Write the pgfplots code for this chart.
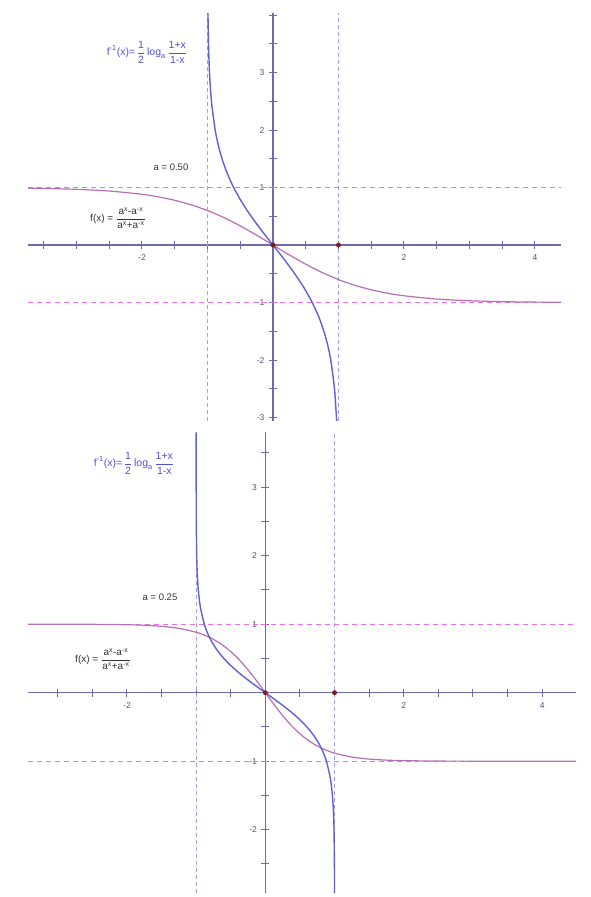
\documentclass[border=0pt]{standalone}
\usepackage{fontspec}
\setmainfont{Liberation Sans}
\usepackage{amsmath}
\usepackage{pgfplots}
\pgfplotsset{compat=1.18}
\definecolor{axiscol}{RGB}{108,108,172}
\definecolor{bluecurve}{RGB}{96,96,215}
\definecolor{purplecurve}{RGB}{180,112,180}
\definecolor{magdash}{RGB}{235,110,235}
\definecolor{bluedash}{RGB}{160,160,228}
\definecolor{dotred}{RGB}{128,30,30}
\definecolor{ticklab}{RGB}{80,80,120}
\definecolor{labblue}{RGB}{80,80,220}
\pgfplotsset{gg/.style={
  axis lines=middle, scale only axis, anchor=south west,
  axis line style={axiscol, line width=1.6pt, -},
  every tick/.style={axiscol, line width=1pt},
  major tick length=8pt, minor tick length=8pt, tick align=center,
  ticklabel style={font=\fontsize{8.5}{9}\selectfont, text=ticklab},
  xticklabel style={yshift=-2pt},
  yticklabel style={xshift=-1pt},
  dashb/.style={bluedash, line width=1.2pt, dash pattern=on 4pt off 3pt},
  dashm/.style={magdash, line width=1.2pt, dash pattern=on 5pt off 4pt},
}}
\begin{document}
\begin{tikzpicture}
\useasboundingbox (0pt,0pt) rectangle (590pt,897pt);
% ---------- top panel a = 0.50
\begin{axis}[gg, at={(28pt,476pt)}, x=65.5pt, y=57.5pt,
  xmin=-3.74, xmax=4.40, ymin=-3.06, ymax=4.03,
  xtick={-2,2,4}, xticklabels={-2,2,4}, minor xtick={-3.5,-3,...,4},
  ytick={-3,-2,-1,1,2,3}, yticklabels={-3,-2,-1,1,2,3}, minor ytick={-3,-2.5,...,4}]
\addplot[dashb] coordinates {(-1,-3.06)(-1,4.03)};
\addplot[dashb] coordinates {(1,-3.06)(1,4.03)};
\addplot[dashm] coordinates {(-3.74,1)(4.40,1)};
\addplot[dashm] coordinates {(-3.74,-1)(4.40,-1)};
\addplot[purplecurve, line width=1.2pt, smooth] coordinates {
(-3.74,0.9888)(-3.5,0.9845)(-3,0.9692)(-2.5,0.9394)(-2,0.8824)(-1.75,0.8376)(-1.5,0.7778)(-1.25,0.6996)(-1,0.6)(-0.75,0.4776)(-0.5,0.3333)(-0.25,0.1716)(0,0)(0.25,-0.1716)(0.5,-0.3333)(0.75,-0.4776)(1,-0.6)(1.25,-0.6996)(1.5,-0.7778)(1.75,-0.8376)(2,-0.8824)(2.5,-0.9394)(3,-0.9692)(3.5,-0.9845)(4,-0.9922)(4.4,-0.9955)};
\addplot[bluecurve, line width=1.4pt, smooth, tension=0.4] coordinates {
(0.9717,-3.06)(0.9692,-3)(0.9394,-2.5)(0.8824,-2)(0.8376,-1.75)(0.7778,-1.5)(0.6996,-1.25)(0.6,-1)(0.4776,-0.75)(0.3333,-0.5)(0.1716,-0.25)(0,0)(-0.1716,0.25)(-0.3333,0.5)(-0.4776,0.75)(-0.6,1)(-0.6996,1.25)(-0.7778,1.5)(-0.8376,1.75)(-0.8824,2)(-0.9394,2.5)(-0.9692,3)(-0.9845,3.5)(-0.9922,4)(-0.9925,4.03)};
\addplot[only marks, mark=*, mark size=2.2pt, dotred] coordinates {(0,0)(1,0)};
\end{axis}
% ---------- bottom panel a = 0.25
\begin{axis}[gg, at={(28pt,3.6pt)}, x=69.2pt, y=68.5pt,
  xmin=-3.43, xmax=4.49, ymin=-2.93, ymax=3.8,
  xtick={-2,2,4}, xticklabels={-2,2,4}, minor xtick={-3,-2.5,...,4},
  ytick={-2,-1,1,2,3}, yticklabels={-2,-1,1,2,3}, minor ytick={-2.5,-2,...,3.5}]
\addplot[dashb] coordinates {(-1,-2.93)(-1,3.8)};
\addplot[dashb] coordinates {(1,-2.93)(1,3.8)};
\addplot[dashm] coordinates {(-3.43,1)(4.49,1)};
\addplot[dashm] coordinates {(-3.43,-1)(4.49,-1)};
\addplot[purplecurve, line width=1.2pt, smooth] coordinates {
(-3.43,0.99985)(-3,0.99951)(-2.5,0.99805)(-2,0.99222)(-1.75,0.9845)(-1.5,0.9692)(-1.25,0.9394)(-1,0.8824)(-0.875,0.8376)(-0.75,0.7778)(-0.625,0.6996)(-0.5,0.6)(-0.375,0.4776)(-0.25,0.3333)(-0.125,0.1716)(0,0)(0.125,-0.1716)(0.25,-0.3333)(0.375,-0.4776)(0.5,-0.6)(0.625,-0.6996)(0.75,-0.7778)(0.875,-0.8376)(1,-0.8824)(1.25,-0.9394)(1.5,-0.9692)(1.75,-0.9845)(2,-0.99222)(2.5,-0.99805)(3,-0.99951)(3.5,-0.99988)(4,-0.99997)(4.49,-0.99999)};
\addplot[bluecurve, line width=1.4pt, smooth, tension=0.4] coordinates {
(0.99941,-2.93)(0.99805,-2.5)(0.99222,-2)(0.9845,-1.75)(0.9692,-1.5)(0.9394,-1.25)(0.8824,-1)(0.8376,-0.875)(0.7778,-0.75)(0.6996,-0.625)(0.6,-0.5)(0.4776,-0.375)(0.3333,-0.25)(0.1716,-0.125)(0,0)(-0.1716,0.125)(-0.3333,0.25)(-0.4776,0.375)(-0.6,0.5)(-0.6996,0.625)(-0.7778,0.75)(-0.8376,0.875)(-0.8824,1)(-0.9394,1.25)(-0.9692,1.5)(-0.9845,1.75)(-0.99222,2)(-0.99805,2.5)(-0.99951,3)(-0.99988,3.5)(-0.99995,3.8)};
\addplot[only marks, mark=*, mark size=2.2pt, dotred] coordinates {(0,0)(1,0)};
\end{axis}
% ---------- labels
\node[text=labblue, font=\fontsize{10.5}{12}\selectfont, inner sep=0pt] at (147pt,845pt)
  {$\text{f}^{\text{-1}}\text{(x)=}\,\dfrac{\text{1}}{\text{2}}\,\text{log}_{\text{a}}\,\dfrac{\text{1+x}}{\text{1-x}}$};
\node[text=black!80, font=\fontsize{9.5}{11}\selectfont, inner sep=0pt] at (171pt,730pt) {a = 0.50};
\node[text=black!80, font=\fontsize{10}{12}\selectfont, inner sep=0pt] at (118pt,679pt)
  {$\text{f(x) = }\dfrac{\text{a}^{\text{x}}\text{-a}^{\text{-x}}}{\text{a}^{\text{x}}\text{+a}^{\text{-x}}}$};
\node[text=labblue, font=\fontsize{10.5}{12}\selectfont, inner sep=0pt] at (134pt,434pt)
  {$\text{f}^{\text{-1}}\text{(x)=}\,\dfrac{\text{1}}{\text{2}}\,\text{log}_{\text{a}}\,\dfrac{\text{1+x}}{\text{1-x}}$};
\node[text=black!80, font=\fontsize{9.5}{11}\selectfont, inner sep=0pt] at (160pt,300pt) {a = 0.25};
\node[text=black!80, font=\fontsize{10}{12}\selectfont, inner sep=0pt] at (103pt,238pt)
  {$\text{f(x) = }\dfrac{\text{a}^{\text{x}}\text{-a}^{\text{-x}}}{\text{a}^{\text{x}}\text{+a}^{\text{-x}}}$};
\end{tikzpicture}
\end{document}
